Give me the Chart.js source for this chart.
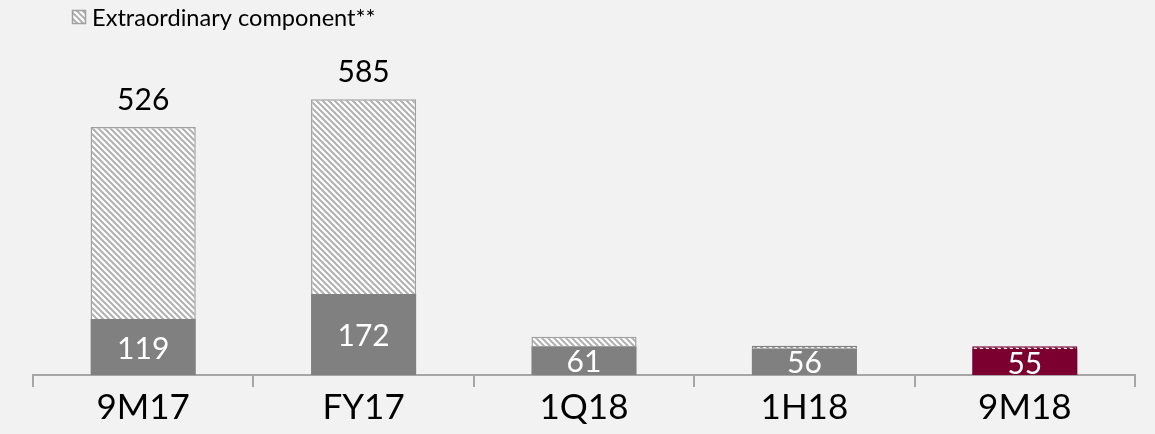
<!DOCTYPE html>
<html><head><meta charset="utf-8">
<script src="https://cdn.jsdelivr.net/npm/chart.js@4/dist/chart.umd.min.js"></script>
<style>html,body{margin:0;background:#f2f2f2}#wrap{width:1155px;height:434px;position:relative}</style>
</head><body><div id="wrap"><canvas id="c"></canvas></div>
<script>
const categories = ['9M17', 'FY17', '1Q18', '1H18', '9M18'];
const baseValues = [119, 172, 61, 56, 55];
const extraValues = [407, 413, 20, 6, 6];
const totalLabels = ['526', '585', '', '', ''];
const legendLabel = 'Extraordinary component**';

const GREY = '#808080', MAROON = '#7b0030', EDGE = '#a0a0a0';

function hatch(fg, bg) {
  const s = 6;
  const c = document.createElement('canvas');
  c.width = s; c.height = s;
  const x = c.getContext('2d');
  x.fillStyle = bg; x.fillRect(0, 0, s, s);
  x.strokeStyle = fg; x.lineWidth = 2;
  x.beginPath();
  x.moveTo(-2, -2); x.lineTo(s + 2, s + 2);
  x.moveTo(-2, s - 2); x.lineTo(2, s + 2);
  x.moveTo(s - 2, -2); x.lineTo(s + 2, 2);
  x.stroke();
  return x.createPattern(c, 'repeat');
}
const greyHatch = hatch('#b0b0b0', '#ffffff');
const darkHatch = hatch(GREY, '#ffffff');
const maroonHatch = hatch(MAROON, '#ffffff');

const labelPlugin = {
  id: 'labels',
  afterDatasetsDraw(chart) {
    const ctx = chart.ctx;
    const m0 = chart.getDatasetMeta(0).data;
    const m1 = chart.getDatasetMeta(1).data;
    ctx.save();
    ctx.font = '30px Lato';
    ctx.textAlign = 'center';
    for (let i = 0; i < categories.length; i++) {
      const b = m0[i];
      ctx.fillStyle = '#ffffff';
      ctx.textBaseline = 'middle';
      ctx.fillText(String(baseValues[i]), b.x, (b.y + b.base) / 2 + 2);
      if (totalLabels[i]) {
        const t = m1[i];
        ctx.fillStyle = '#000000';
        ctx.textBaseline = 'alphabetic';
        ctx.fillText(totalLabels[i], t.x, t.y - 17);
      }
    }
    // legend
    ctx.fillStyle = greyHatch;
    ctx.fillRect(72, 10, 14, 14);
    ctx.strokeStyle = EDGE; ctx.lineWidth = 1.5;
    ctx.strokeRect(72.5, 10.5, 13, 13);
    ctx.fillStyle = '#000';
    ctx.font = '23.6px Lato';
    ctx.textAlign = 'left';
    ctx.textBaseline = 'middle';
    ctx.fillText(legendLabel, 92, 18);
    ctx.restore();
  }
};

new Chart(document.getElementById('c'), {
  type: 'bar',
  data: {
    labels: categories,
    datasets: [
      { label: 'Base', data: baseValues,
        backgroundColor: [GREY, GREY, GREY, GREY, MAROON],
        borderWidth: 0, barPercentage: 0.477, categoryPercentage: 1 },
      { label: legendLabel, data: extraValues,
        backgroundColor: [greyHatch, greyHatch, greyHatch, darkHatch, maroonHatch],
        borderColor: [EDGE, EDGE, EDGE, GREY, MAROON], borderWidth: 1.5,
        barPercentage: 0.477, categoryPercentage: 1 }
    ]
  },
  options: {
    responsive: true, maintainAspectRatio: false, animation: false,
    layout: { padding: { top: 45, left: 33, right: 20, bottom: 5 } },
    plugins: { legend: { display: false }, tooltip: { enabled: false } },
    scales: {
      x: { stacked: true,
        grid: { offset: true, drawOnChartArea: false, drawTicks: true, tickLength: 12, color: '#a6a6a6', lineWidth: 2 },
        border: { display: true, color: '#a6a6a6', width: 2 },
        ticks: { color: '#000', font: { family: 'Lato', size: 35 }, padding: 0 } },
      y: { stacked: true, display: false, min: 0, max: 700 }
    }
  },
  plugins: [labelPlugin]
});
</script></body></html>
